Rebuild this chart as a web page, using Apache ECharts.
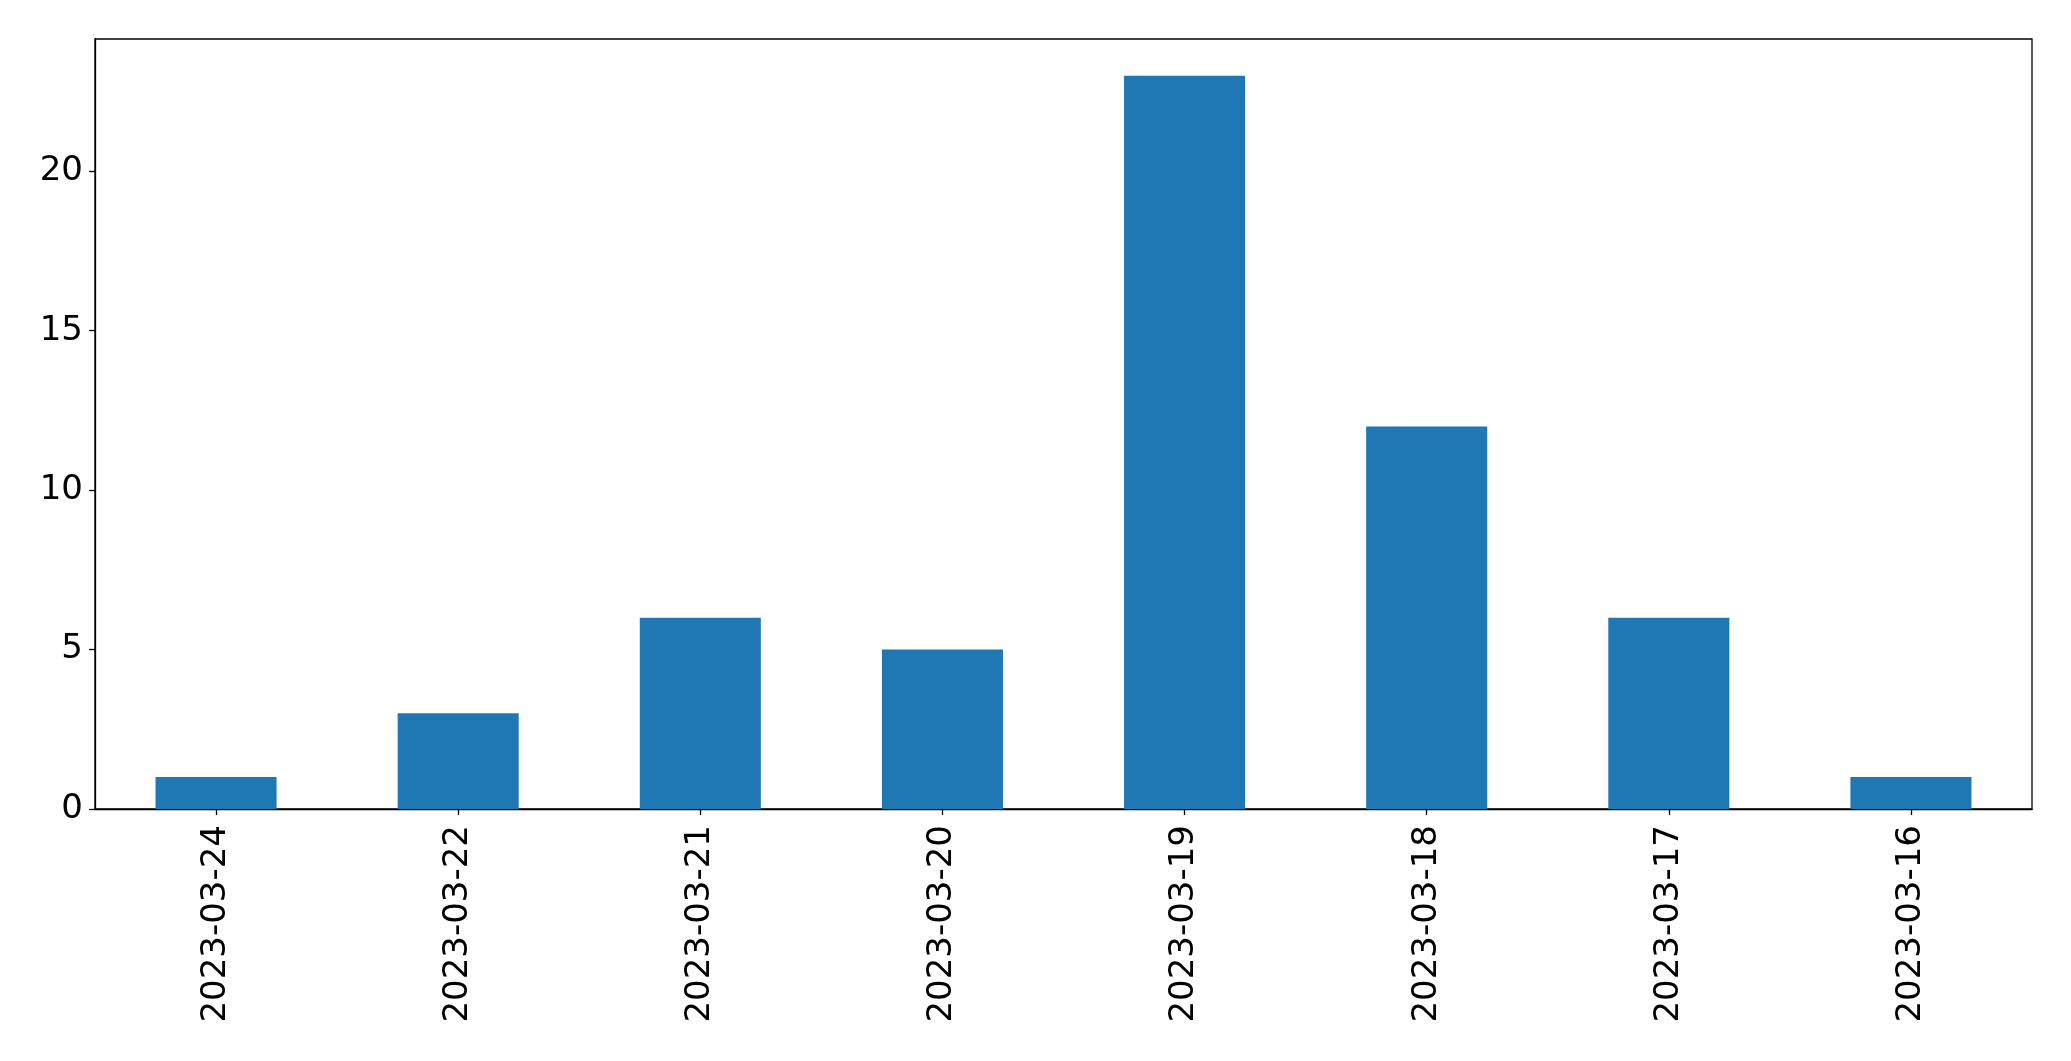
<!DOCTYPE html>
<html>
<head>
<meta charset="utf-8">
<script src="https://cdn.jsdelivr.net/npm/echarts@6/dist/echarts.min.js"></script>
<style>
html,body{margin:0;padding:0;background:#fff;}
#chart{width:2071px;height:1061px;}
</style>
</head>
<body>
<div id="chart"></div>
<script>
const categories = ["2023-03-24","2023-03-22","2023-03-21","2023-03-20","2023-03-19","2023-03-18","2023-03-17","2023-03-16"];
const values = [1, 3, 6, 5, 23, 12, 6, 1];
const yTicks = [0, 5, 10, 15, 20];

const chart = echarts.init(document.getElementById('chart'), null, {renderer: 'canvas'});
const font = 'DejaVu Sans';
chart.setOption({
  animation: false,
  backgroundColor: '#fff',
  grid: {left: 95, right: 39, top: 39, bottom: 252, show: true, borderColor: '#000', borderWidth: 1.3, containLabel: false},
  xAxis: {
    type: 'category',
    data: categories,
    axisLine: {show: true, lineStyle: {color: '#000', width: 1.3}},
    axisTick: {show: true, alignWithLabel: true, length: 6, lineStyle: {color: '#000', width: 1.3}},
    axisLabel: {rotate: 90, margin: 16, fontSize: 34, fontFamily: font, color: '#000', interval: 0}
  },
  yAxis: {
    type: 'value',
    min: 0,
    max: 24.15,
    interval: 5,
    splitLine: {show: false},
    axisLine: {show: true, lineStyle: {color: '#000', width: 1.3}},
    axisTick: {show: true, length: 6, customValues: yTicks, lineStyle: {color: '#000', width: 1.3}},
    axisLabel: {margin: 12, fontSize: 34, fontFamily: font, color: '#000', customValues: yTicks}
  },
  series: [{
    type: 'bar',
    data: values,
    barWidth: '50%',
    itemStyle: {color: '#1f77b4'}
  }]
});
</script>
</body>
</html>
